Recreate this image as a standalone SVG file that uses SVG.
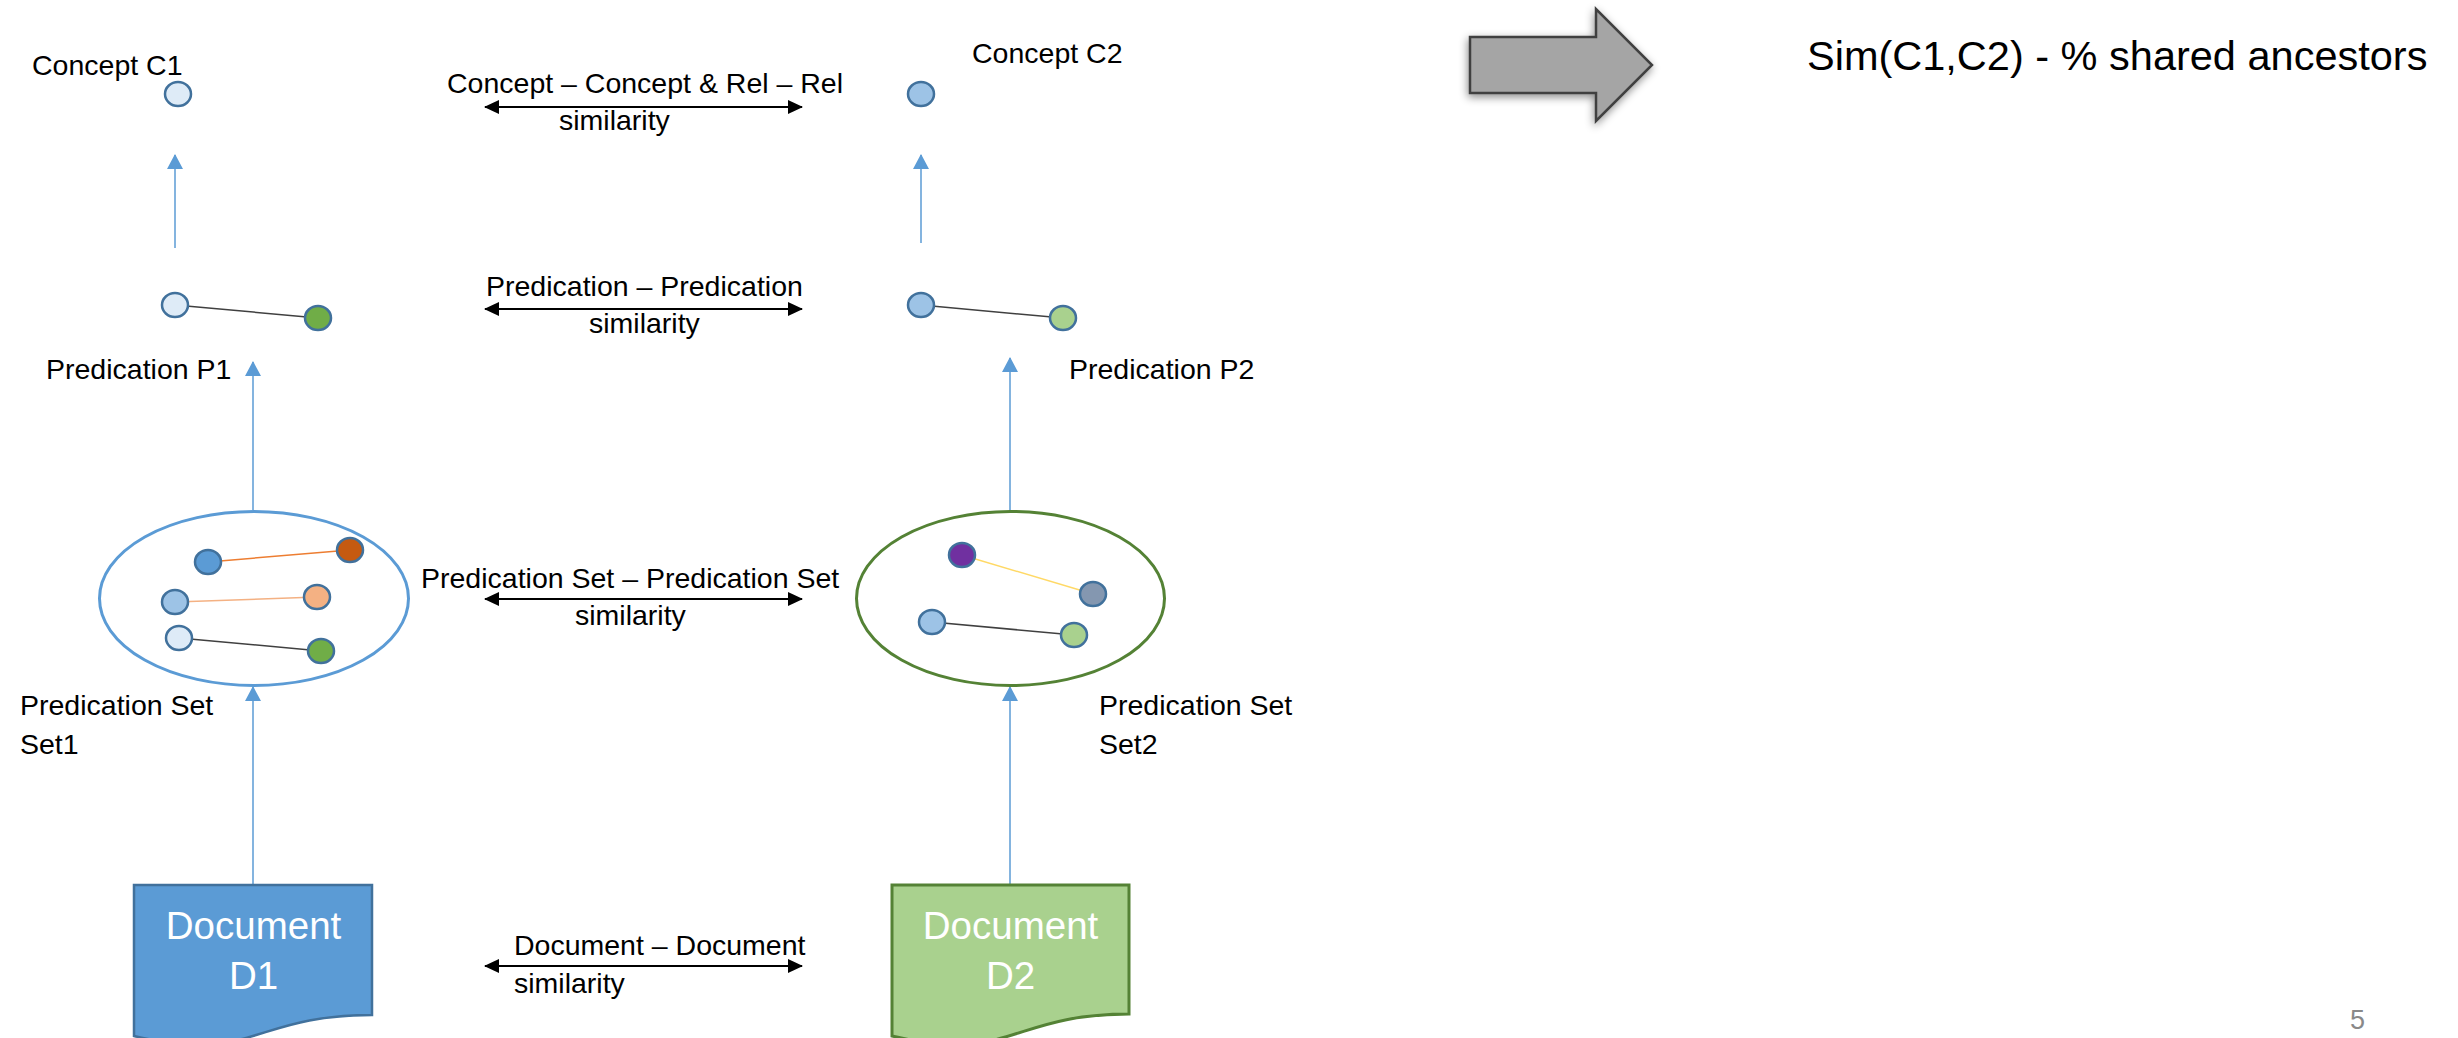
<svg xmlns="http://www.w3.org/2000/svg" width="2458" height="1038" viewBox="0 0 2458 1038">
  <defs>
    <style>
      .lbl { font-family: "Liberation Sans", Arial, sans-serif; font-size: 28.5px; fill: #000000; }
      .big { font-family: "Liberation Sans", Arial, sans-serif; font-size: 41.5px; fill: #000000; }
      .doc { font-family: "Liberation Sans", Arial, sans-serif; font-size: 38.5px; fill: #FFFFFF; text-anchor: middle; }
      .pg { font-family: "Liberation Sans", Arial, sans-serif; font-size: 27px; fill: #898989; }
      .dot { stroke: #41719C; stroke-width: 2.5; }
      .flow { stroke: #5B9BD5; stroke-width: 1.5; fill: none; marker-end: url(#blueHead); }
      .sim { stroke: #000000; stroke-width: 2; fill: none; marker-start: url(#blackHead); marker-end: url(#blackHead); }
      .link { stroke-width: 1.5; fill: none; }
    </style>
    <marker id="blueHead" markerUnits="userSpaceOnUse" markerWidth="15" markerHeight="16" viewBox="0 0 15 16" refX="14" refY="8" orient="auto">
      <path d="M0,0 L15,8 L0,16 Z" fill="#5B9BD5"/>
    </marker>
    <marker id="blackHead" markerUnits="userSpaceOnUse" markerWidth="15" markerHeight="14" viewBox="0 0 15 14" refX="14" refY="7" orient="auto-start-reverse">
      <path d="M0,0 L15,7 L0,14 Z" fill="#000000"/>
    </marker>
    <filter id="softShadow" x="-20%" y="-20%" width="140%" height="150%">
      <feDropShadow dx="-1" dy="3" stdDeviation="4" flood-color="#000000" flood-opacity="0.45"/>
    </filter>
  </defs>

  <rect width="2458" height="1038" fill="#FFFFFF"/>

  <!-- connectors: upward flow arrows and double-headed similarity arrows -->
  <g id="connectors">
    <line class="flow" x1="175" y1="248" x2="175" y2="155"/>
    <line class="flow" x1="921" y1="243" x2="921" y2="155"/>
    <line class="flow" x1="253" y1="510" x2="253" y2="362"/>
    <line class="flow" x1="1010" y1="510" x2="1010" y2="358"/>
    <line class="flow" x1="253" y1="885" x2="253" y2="687"/>
    <line class="flow" x1="1010" y1="885" x2="1010" y2="687"/>

    <line class="sim" x1="485" y1="107" x2="802" y2="107"/>
    <line class="sim" x1="485" y1="309" x2="802" y2="309"/>
    <line class="sim" x1="485" y1="599" x2="802" y2="599"/>
    <line class="sim" x1="485" y1="966" x2="802" y2="966"/>

    <text class="lbl" x="447" y="93">Concept – Concept &amp; Rel – Rel</text>
    <text class="lbl" x="559" y="130">similarity</text>
    <text class="lbl" x="486" y="296">Predication – Predication</text>
    <text class="lbl" x="589" y="333">similarity</text>
    <text class="lbl" x="421" y="588">Predication Set – Predication Set</text>
    <text class="lbl" x="575" y="625">similarity</text>
    <text class="lbl" x="514" y="955">Document – Document</text>
    <text class="lbl" x="514" y="993">similarity</text>
  </g>

  <!-- concept C1 -->
  <g id="concept-c1">
    <text class="lbl" x="32" y="75">Concept C1</text>
    <ellipse class="dot" cx="178" cy="94" rx="13" ry="12" fill="#DEEBF7"/>
  </g>

  <!-- concept C2 -->
  <g id="concept-c2">
    <text class="lbl" x="972" y="63">Concept C2</text>
    <ellipse class="dot" cx="921" cy="94" rx="13" ry="12" fill="#9DC3E6"/>
  </g>

  <!-- predication P1 -->
  <g id="predication-p1">
    <line class="link" x1="175" y1="305" x2="318" y2="318" stroke="#404040"/>
    <ellipse class="dot" cx="175" cy="305" rx="13" ry="12" fill="#DEEBF7"/>
    <ellipse class="dot" cx="318" cy="318" rx="13" ry="12" fill="#70AD47"/>
    <text class="lbl" x="46" y="379">Predication P1</text>
  </g>

  <!-- predication P2 -->
  <g id="predication-p2">
    <line class="link" x1="921" y1="305" x2="1063" y2="318" stroke="#404040"/>
    <ellipse class="dot" cx="921" cy="305" rx="13" ry="12" fill="#9DC3E6"/>
    <ellipse class="dot" cx="1063" cy="318" rx="13" ry="12" fill="#A9D18E"/>
    <text class="lbl" x="1069" y="379">Predication P2</text>
  </g>

  <!-- predication set 1 -->
  <g id="predication-set1">
    <ellipse cx="254" cy="598.5" rx="154.5" ry="87" fill="none" stroke="#5B9BD5" stroke-width="3"/>
    <line class="link" x1="208" y1="562" x2="350" y2="550" stroke="#ED7D31"/>
    <line class="link" x1="175" y1="602" x2="317" y2="597" stroke="#F4B183"/>
    <line class="link" x1="179" y1="638" x2="321" y2="651" stroke="#404040"/>
    <ellipse class="dot" cx="208" cy="562" rx="13" ry="12" fill="#5B9BD5"/>
    <ellipse class="dot" cx="350" cy="550" rx="13" ry="12" fill="#C55A11"/>
    <ellipse class="dot" cx="175" cy="602" rx="13" ry="12" fill="#9DC3E6"/>
    <ellipse class="dot" cx="317" cy="597" rx="13" ry="12" fill="#F4B183"/>
    <ellipse class="dot" cx="179" cy="638" rx="13" ry="12" fill="#DEEBF7"/>
    <ellipse class="dot" cx="321" cy="651" rx="13" ry="12" fill="#70AD47"/>
    <text class="lbl" x="20" y="715">Predication Set</text>
    <text class="lbl" x="20" y="754">Set1</text>
  </g>

  <!-- predication set 2 -->
  <g id="predication-set2">
    <ellipse cx="1010.5" cy="598.5" rx="154" ry="87" fill="none" stroke="#548235" stroke-width="3"/>
    <line class="link" x1="962" y1="555" x2="1093" y2="594" stroke="#FFD966"/>
    <line class="link" x1="932" y1="622" x2="1074" y2="635" stroke="#404040"/>
    <ellipse class="dot" cx="962" cy="555" rx="13" ry="12" fill="#7030A0"/>
    <ellipse class="dot" cx="1093" cy="594" rx="13" ry="12" fill="#8497B0"/>
    <ellipse class="dot" cx="932" cy="622" rx="13" ry="12" fill="#9DC3E6"/>
    <ellipse class="dot" cx="1074" cy="635" rx="13" ry="12" fill="#A9D18E"/>
    <text class="lbl" x="1099" y="715">Predication Set</text>
    <text class="lbl" x="1099" y="754">Set2</text>
  </g>

  <!-- document D1 (flowchart document shape) -->
  <g id="document-d1">
    <path d="M134,885 L372,885 L372,1015 C253,1015 253,1064 134,1036 Z" fill="#5B9BD5" stroke="#41719C" stroke-width="2.5"/>
    <text class="doc" x="253.5" y="939">Document</text>
    <text class="doc" x="253.5" y="989">D1</text>
  </g>

  <!-- document D2 -->
  <g id="document-d2">
    <path d="M892,885 L1129,885 L1129,1014 C1010.5,1014 1010.5,1064 892,1036 Z" fill="#A9D18E" stroke="#548235" stroke-width="3"/>
    <text class="doc" x="1010.5" y="939">Document</text>
    <text class="doc" x="1010.5" y="989">D2</text>
  </g>

  <!-- block arrow pointing to the result -->
  <g id="result-arrow">
    <path d="M1470,37 L1596,37 L1596,9 L1652,65 L1596,121 L1596,93 L1470,93 Z" fill="#A5A5A5" stroke="#404040" stroke-width="2.5" stroke-linejoin="miter" filter="url(#softShadow)"/>
  </g>

  <!-- resulting measure -->
  <g id="result">
    <text class="big" x="1807" y="70">Sim(C1,C2) - % shared ancestors</text>
  </g>

  <!-- slide number -->
  <g id="page-number">
    <text class="pg" x="2350" y="1029">5</text>
  </g>
</svg>
